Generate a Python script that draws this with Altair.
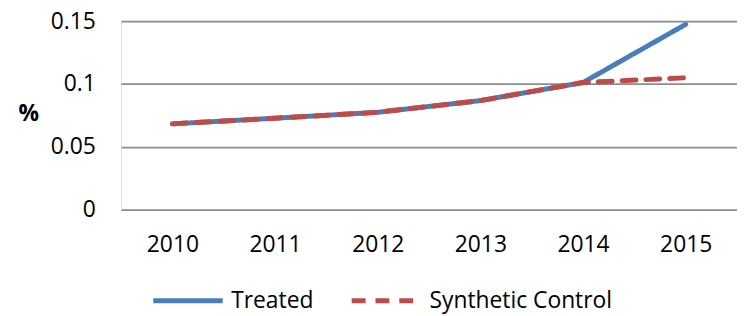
import altair as alt
import pandas as pd

years = ["2010", "2011", "2012", "2013", "2014", "2015"]
treated = [0.0683, 0.0728, 0.0775, 0.0868, 0.1012, 0.1475]
synthetic = [0.0683, 0.0728, 0.0775, 0.0868, 0.1012, 0.1050]
series_names = ["Treated", "Synthetic Control"]

rows = []
for y, t, s in zip(years, treated, synthetic):
    rows.append({"year": y, "value": t, "series": series_names[0]})
    rows.append({"year": y, "value": s, "series": series_names[1]})
df = pd.DataFrame(rows)

FONT = "Open Sans"
FS = 23

legend_cfg = dict(title=None, orient="none", legendX=30, legendY=244,
                  direction="horizontal", symbolType="stroke",
                  symbolSize=4900, symbolStrokeWidth=5,
                  labelFont=FONT, labelFontSize=FS, labelColor="#000000",
                  labelOffset=6, columnPadding=28, labelLimit=0)

chart = alt.Chart(df).mark_line(strokeWidth=5, strokeCap="round", strokeJoin="round").encode(
    x=alt.X("year:O", sort=years,
            scale=alt.Scale(type="point", padding=0.5),
            axis=alt.Axis(title=None, labelAngle=0, ticks=False, domain=False,
                          labelPadding=24, labelFont=FONT, labelFontSize=FS,
                          labelColor="#000000", grid=False)),
    y=alt.Y("value:Q", scale=alt.Scale(domain=[0, 0.15], nice=False),
            axis=alt.Axis(values=[0, 0.05, 0.1, 0.15], format=".2~f",
                          title="%", titleAngle=0, titleFont=FONT, titleFontSize=FS,
                          titleFontWeight="bold", titleColor="#000000",
                          titleX=-104, titleY=105, titleAlign="left",
                          ticks=False, domain=False, labelPadding=26,
                          labelFont=FONT, labelFontSize=FS, labelColor="#000000",
                          grid=True, gridColor="#8c8c8c", gridWidth=1.8)),
    color=alt.Color("series:N", sort=series_names,
                    scale=alt.Scale(domain=series_names, range=["#4A7EBB", "#BE4B48"]),
                    legend=alt.Legend(**legend_cfg)),
    strokeDash=alt.StrokeDash("series:N", sort=series_names,
                              scale=alt.Scale(domain=series_names, range=[[1, 0], [14, 10]]),
                              legend=alt.Legend(**legend_cfg)),
    order=alt.Order("series:N"),
).properties(
    width=621, height=190,
    autosize=alt.AutoSizeParams(type="none"),
    padding={"left": 114, "top": 12, "right": 0, "bottom": 120},
).configure_view(stroke=None).configure(background="white")

chart.save("out.html", embed_options={"renderer": "svg", "actions": False})
